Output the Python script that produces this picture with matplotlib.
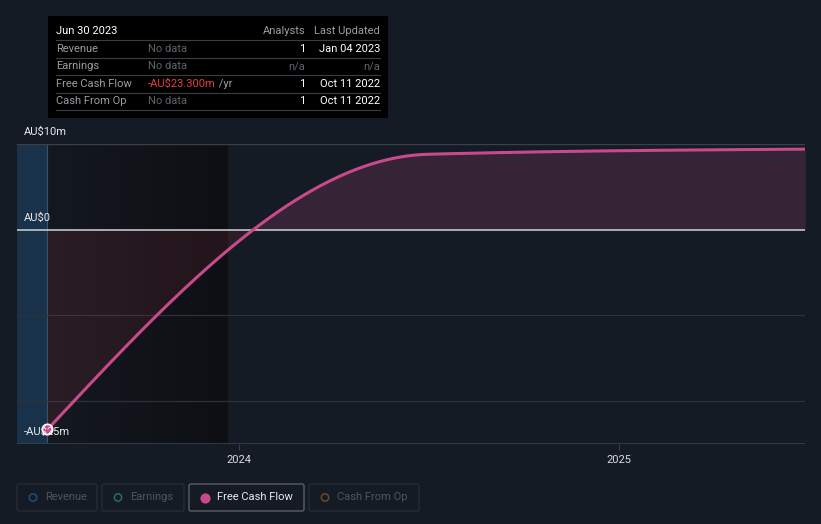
import numpy as np
import matplotlib
matplotlib.use('Agg')
from matplotlib import pyplot as plt
from matplotlib.patches import FancyBboxPatch, Rectangle

plt.rcParams['font.family'] = ['Roboto', 'DejaVu Sans']

# data (fiscal year ends, decimal years) in AU$ millions
fcf_x = [2023.496, 2024.496, 2025.49]
fcf_y = [-23.3, 8.8, 9.4]
y_ticks = [10, 0, -25]
y_tick_labels = ['AU$10m', 'AU$0', '-AU$25m']
x_ticks = [2024, 2025]
x_tick_labels = ['2024', '2025']
table_header = ['Jun 30 2023', '', 'Analysts', 'Last Updated']
table_rows = [
    ['Revenue', 'No data', '1', 'Jan 04 2023'],
    ['Earnings', 'No data', 'n/a', 'n/a'],
    ['Free Cash Flow', '-AU$23.300m', '1', 'Oct 11 2022'],
    ['Cash From Op', 'No data', '1', 'Oct 11 2022'],
]
legend_items = ['Revenue', 'Earnings', 'Free Cash Flow', 'Cash From Op']
legend_colors = ['#1f4d74', '#2b6a66', '#c94a8a', '#6b4a2c']

BG = '#151b24'
LINE = '#c94a8a'
FS = 8


def monotone(xs, ys, n=200):
    # monotone cubic (d3 curveMonotoneX style) for drawing the line
    xs = np.asarray(xs, float); ys = np.asarray(ys, float)
    h = np.diff(xs); s = np.diff(ys) / h
    t = np.zeros(len(xs))
    for i in range(1, len(xs) - 1):
        if s[i - 1] * s[i] <= 0:
            t[i] = 0
        else:
            p = (s[i - 1] * h[i] + s[i] * h[i - 1]) / (h[i - 1] + h[i])
            t[i] = (np.sign(s[i - 1]) + np.sign(s[i])) * min(abs(s[i - 1]), abs(s[i]), 0.5 * abs(p))
    t[0] = (3 * s[0] - t[1]) / 2
    t[-1] = (3 * s[-1] - t[-2]) / 2
    ox, oy = [], []
    for i in range(len(h)):
        u = np.linspace(0, 1, n)
        h00 = 2 * u**3 - 3 * u**2 + 1
        h10 = u**3 - 2 * u**2 + u
        h01 = -2 * u**3 + 3 * u**2
        h11 = u**3 - u**2
        ox.append(xs[i] + u * h[i])
        oy.append(h00 * ys[i] + h10 * h[i] * t[i] + h01 * ys[i + 1] + h11 * h[i] * t[i + 1])
    return np.concatenate(ox), np.concatenate(oy)


fig = plt.figure(figsize=(8.21, 5.24), dpi=100)
fig.patch.set_facecolor(BG)
ax = fig.add_axes([17 / 821, 80 / 524, 788 / 821, 300 / 524])
ax.set_facecolor(BG)
x0 = 2024 - 222 / 380
x1 = 2024 + 566 / 380
ax.set_xlim(x0, x1)
ax.set_ylim(-25, 10)
for s in ax.spines.values():
    s.set_visible(False)

# past band and forecast shading
ax.axvspan(x0, fcf_x[0], color='#1a3249', zorder=0)
ax.axvline(fcf_x[0], color='#2f5577', lw=0.8, zorder=1)
today = 2024 - 11 / 380
grad = np.linspace(0, 1, 256).reshape(1, -1)
ax.imshow(grad, extent=[fcf_x[0], today, -25, 10], aspect='auto', zorder=0.5, interpolation='bilinear',
          cmap=matplotlib.colors.LinearSegmentedColormap.from_list('g', ['#141920', '#0d0f13']))

# grid
for g in [10, -10, -20]:
    ax.axhline(g, color='#2c323b', lw=0.9, zorder=1)
ax.axhline(10, color='#3a4049', lw=0.9, zorder=1)
ax.axhline(-25, color='#3a4049', lw=1.2, zorder=1)

lx, ly = monotone(fcf_x, fcf_y)
ax.fill_between(lx, ly, 0, where=ly >= 0, interpolate=True, color='#c94a8a', alpha=0.18, lw=0, zorder=2)
ax.fill_between(lx, ly, 0, where=ly <= 0, interpolate=True, color='#a8334a', alpha=0.15, lw=0, zorder=2)
ax.axhline(0, color='#d0d4d9', lw=1.1, zorder=3)
ax.plot(lx, ly, color=LINE, lw=2.2, zorder=4, solid_capstyle='round')
ax.scatter([fcf_x[0]], [fcf_y[0]], s=55, color=LINE, edgecolor='white', lw=1.3, zorder=5)

ax.set_yticks([])
ax.set_xticks(x_ticks)
ax.set_xticklabels(x_tick_labels, color='#d8dbe0', fontsize=FS)
ax.tick_params(axis='x', length=4, color='#3a4049', pad=4)

for v, lab in zip(y_ticks, y_tick_labels):
    if v == -25:
        ax.annotate(lab, xy=(x0, v), xytext=(5, 9), textcoords='offset points',
                    color='#e8eaed', fontsize=FS, va='center', zorder=6)
    else:
        ax.annotate(lab, xy=(x0, v), xytext=(5, 5), textcoords='offset points',
                    color='#e8eaed', fontsize=FS, va='bottom', zorder=6)

# tooltip table
tb = fig.add_axes([48 / 821, 406 / 524, 340 / 821, 102 / 524])
tb.set_xlim(48, 388); tb.set_ylim(118, 16)
tb.axis('off')
tb.add_patch(Rectangle((48, 16), 340, 102, color='#000000', zorder=0))
tb.text(56, 31, table_header[0], color='white', fontsize=FS, va='center')
tb.text(305, 31, table_header[2], color='#9a9ea4', fontsize=FS, va='center', ha='right')
tb.text(380, 31, table_header[3], color='#9a9ea4', fontsize=FS, va='center', ha='right')
row_y = [49, 66, 84, 101]
for yy in [40, 58, 75, 93, 110]:
    tb.plot([56, 380], [yy, yy], color='#3a3d42', lw=0.8)
for yy, row in zip(row_y, table_rows):
    tb.text(56, yy, row[0], color='#9a9ea4', fontsize=FS, va='center')
    if row[1].startswith('-'):
        t = tb.text(148, yy, row[1], color='#e5403f', fontsize=FS, va='center')
        tb.annotate(' /yr', xycoords=t, xy=(1, 0.5), va='center', color='#9a9ea4', fontsize=FS)
    else:
        tb.text(148, yy, row[1], color='#5f636a', fontsize=FS, va='center')
    c = '#5f636a' if row[2] == 'n/a' else 'white'
    tb.text(305, yy, row[2], color=c, fontsize=FS, va='center', ha='right')
    tb.text(380, yy, row[3], color=c, fontsize=FS, va='center', ha='right')

# legend buttons
lg = fig.add_axes([0, 0, 1, 1], facecolor='none')
lg.set_xlim(0, 821); lg.set_ylim(524, 0)
lg.axis('off')
boxes = [(17, 97), (102, 184), (189, 304), (309, 419)]
for (bx0, bx1), name, col in zip(boxes, legend_items, legend_colors):
    active = name == 'Free Cash Flow'
    lg.add_patch(FancyBboxPatch((bx0, 484), bx1 - bx0, 27, boxstyle='round,pad=0,rounding_size=2',
                                fc=BG, ec='#5a5f66' if active else '#262c35', lw=1))
    if active:
        lg.scatter([bx0 + 16], [497.5], s=40, color=col, zorder=3)
    else:
        lg.scatter([bx0 + 16], [497.5], s=28, facecolor='none', edgecolor=col, lw=1.1, zorder=3)
    lg.text(bx0 + 28, 497.5, name, color='#e8eaed' if active else '#4f555d', fontsize=FS, va='center')

fig.savefig('out.png', dpi=100, facecolor=BG)
